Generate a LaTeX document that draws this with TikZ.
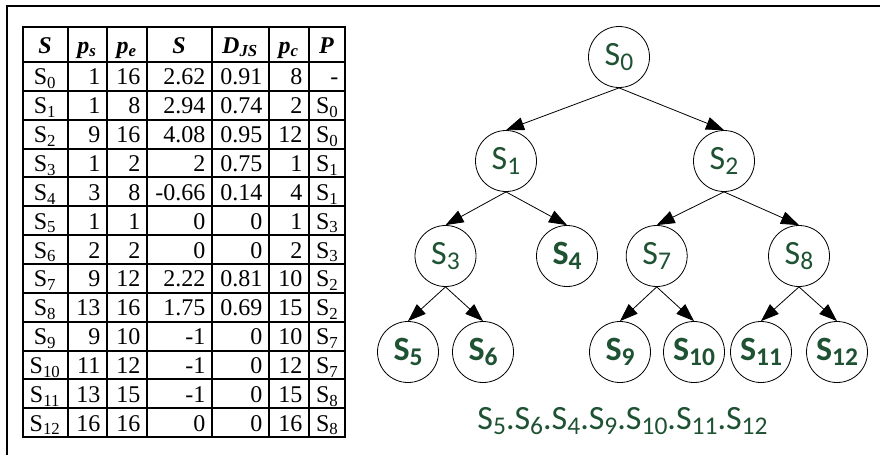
\documentclass[tikz,border=0pt]{standalone}
\usepackage{fontspec}
\setmainfont{Liberation Serif}
\newfontfamily\calib{Carlito}
\usetikzlibrary{arrows.meta}
\definecolor{sgreen}{HTML}{1E5233}
\newcommand\mysub[1]{\textsubscript{#1}}
\newcommand\lab[1]{S\raisebox{-5.5pt}{\fontsize{25.5}{26}\selectfont #1}}
\begin{document}
\begin{tikzpicture}[x=1pt,y=-1pt,
  state/.style={circle,draw=black,line width=0.8pt,fill=white,minimum size=61pt,inner sep=0pt,
    font=\calib\fontsize{34}{36}\selectfont,text=sgreen},
  leaf/.style={state,font=\calib\bfseries\fontsize{34}{36}\selectfont},
  edge/.style={line width=0.8pt,-{Triangle[length=18pt,width=13pt]}},
  grid/.style={line width=2pt},
  cell/.style={inner sep=0pt,anchor=base east,font=\fontsize{24}{28}\selectfont},
  ccell/.style={cell,anchor=base},
  head/.style={inner sep=0pt,anchor=base,font=\fontsize{24}{28}\selectfont\bfseries\itshape},
]
\useasboundingbox (0,0) rectangle (880,455);
% outer frame
\draw[line width=2pt,line join=miter] (7.3,455) -- (7.3,5.5) -- (880,5.5);
% table grid
\draw[grid] (22.5,27) rectangle (344.5,437);
\foreach \x in {67.5,106.5,146.5,211.5,268.5,308.5} \draw[grid] (\x,27) -- (\x,437);
\foreach \k in {0,...,12} \draw[grid] (22.5,{62+\k*28.85}) -- (344.5,{62+\k*28.85});
% header
\node[head] (h1) at (45,53) {S};
\node[head] (h2) at (87,53) {p\mysub{s}};
\node[head] (h3) at (126.5,53) {p\mysub{e}};
\node[head] (h4) at (179,53) {S};
\node[head] (h5) at (240,53) {D\mysub{JS}};
\node[head] (h6) at (288.5,53) {p\mysub{c}};
\node[head] (h7) at (326.5,53) {P};
% rows
\foreach \k/\a/\b/\c/\d/\e/\p in {
  0/1/16/2.62/0.91/8/{-},
  1/1/8/2.94/0.74/2/{S\mysub{0}},
  2/9/16/4.08/0.95/12/{S\mysub{0}},
  3/1/2/2/0.75/1/{S\mysub{1}},
  4/3/8/-0.66/0.14/4/{S\mysub{1}},
  5/1/1/0/0/1/{S\mysub{3}},
  6/2/2/0/0/2/{S\mysub{3}},
  7/9/12/2.22/0.81/10/{S\mysub{2}},
  8/13/16/1.75/0.69/15/{S\mysub{2}},
  9/9/10/-1/0/10/{S\mysub{7}},
  10/11/12/-1/0/12/{S\mysub{7}},
  11/13/15/-1/0/15/{S\mysub{8}},
  12/16/16/0/0/16/{S\mysub{8}}}{
  \pgfmathsetmacro\yy{62+(\k+0.5)*28.85+8.5}
  \node[ccell] (r\k-1) at (45,\yy) {S\mysub{\k}};
  \node[cell] (r\k-2) at (100.5,\yy) {\a};
  \node[cell] (r\k-3) at (140.5,\yy) {\b};
  \node[cell] (r\k-4) at (205.5,\yy) {\c};
  \node[cell] (r\k-5) at (262.5,\yy) {\d};
  \node[cell] (r\k-6) at (302.5,\yy) {\e};
  \node[cell] (r\k-7) at (338.5,\yy) {\p};
}
% tree
\node[state] (s0) at (619,57) {\lab{0}};
\node[state] (s1) at (506,161) {\lab{1}};
\node[state] (s2) at (724,161) {\lab{2}};
\node[state] (s3) at (445.5,256) {\lab{3}};
\node[leaf]  (s4) at (567,256) {\lab{4}};
\node[state] (s7) at (656.7,256) {\lab{7}};
\node[state] (s8) at (799,256) {\lab{8}};
\node[leaf] (s5) at (408,352) {\lab{5}};
\node[leaf] (s6) at (483,352) {\lab{6}};
\node[leaf] (s9) at (620,352) {\lab{9}};
\node[leaf] (s10) at (694,352) {\lab{10}};
\node[leaf] (s11) at (761,352) {\lab{11}};
\node[leaf] (s12) at (837,352) {\lab{12}};
\foreach \a/\b in {s0/s1,s0/s2,s1/s3,s1/s4,s2/s7,s2/s8,s3/s5,s3/s6,s7/s9,s7/s10,s8/s11,s8/s12}
  \draw[edge] (\a.south) -- (\b.north);
\node[font=\calib\fontsize{34}{40}\selectfont,text=sgreen,inner sep=0pt,anchor=base] (seq) at (622.5,429)
  {\lab{5}.\lab{6}.\lab{4}.\lab{9}.\lab{10}.\lab{11}.\lab{12}};
\end{tikzpicture}
\end{document}
